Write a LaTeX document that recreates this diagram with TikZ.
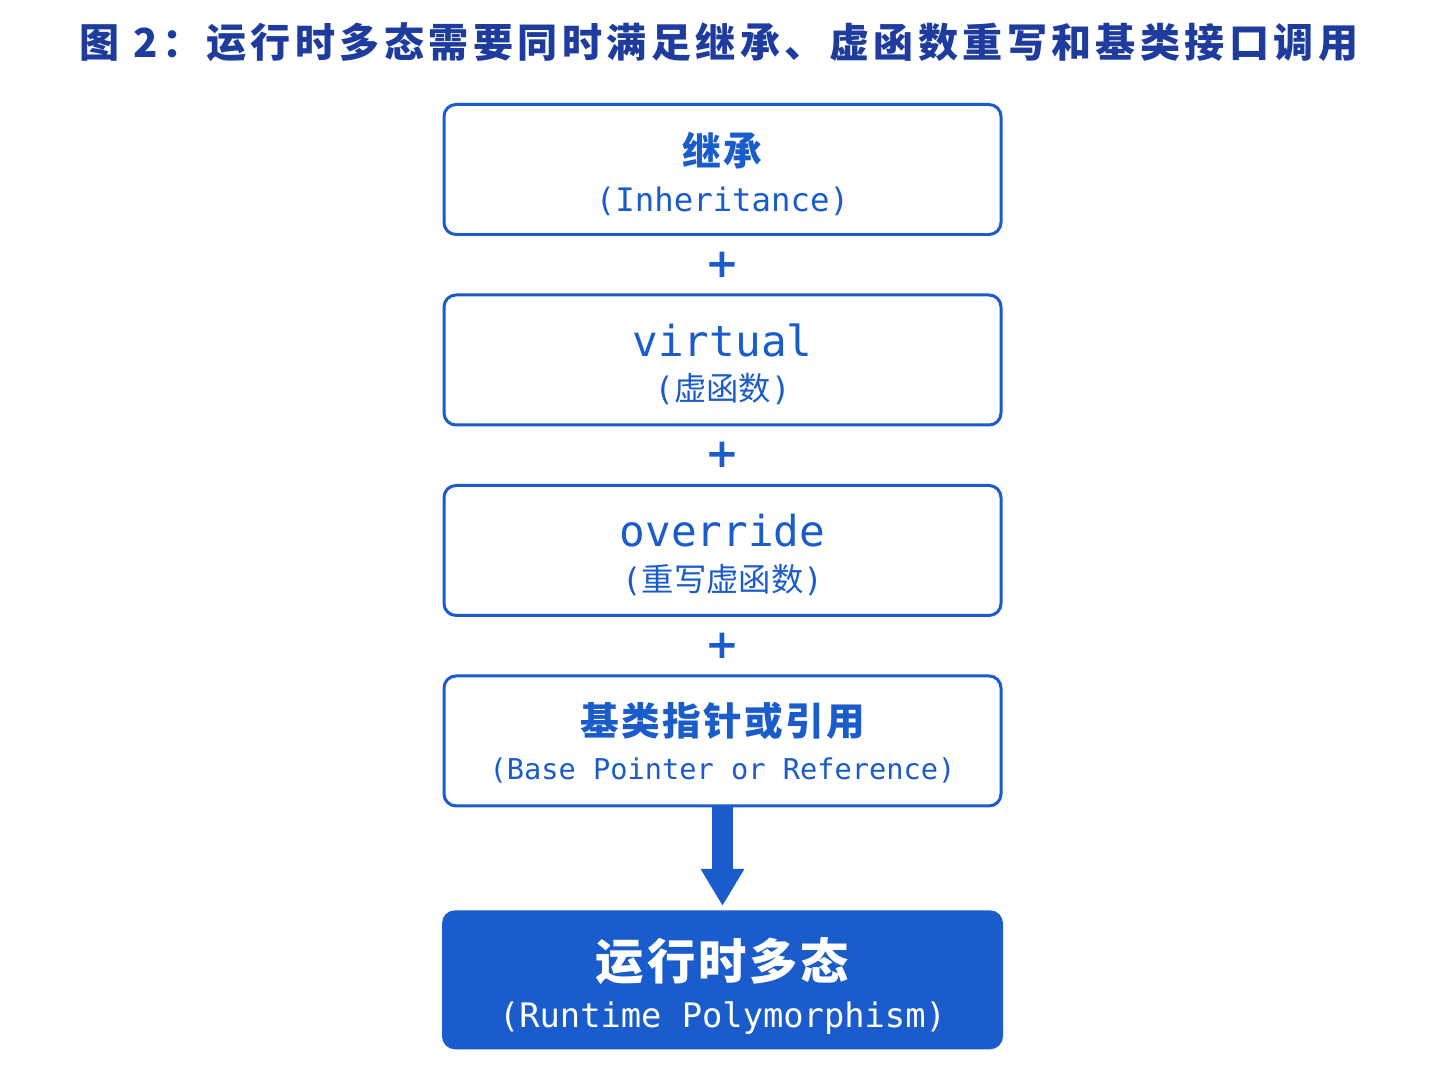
\documentclass[tikz,border=0pt]{standalone}
\usepackage{fontspec}
\usetikzlibrary{positioning,calc,arrows.meta}
\newfontfamily\zhtitle{Noto Sans CJK SC}[LetterSpace=11]
\newfontfamily\zhwide{Noto Sans CJK SC}[LetterSpace=6]
\newfontfamily\zhfont{Noto Sans CJK SC}
\newfontfamily\codefont{DejaVu Sans Mono}
\newfontfamily\plusfont{DejaVu Sans}
\definecolor{titleblue}{HTML}{1E3C9E}
\definecolor{boxblue}{HTML}{1A5CCB}
\begin{document}
\begin{tikzpicture}[
    stepbox/.style={draw=boxblue, line width=1.7pt, rounded corners=0.24cm, fill=white,
                    minimum width=11.14cm, minimum height=2.6cm},
    resultbox/.style={fill=boxblue, rounded corners=0.26cm, minimum width=11.22cm, minimum height=2.78cm},
    headtext/.style={text=boxblue, font=\zhwide\bfseries\fontsize{22}{26}\selectfont},
    subtext/.style={text=boxblue, font=\codefont\fontsize{18.4}{22}\selectfont},
    bigtext/.style={text=boxblue, font=\codefont\fontsize{24.3}{28}\selectfont},
    plussign/.style={text=boxblue, font=\plusfont\bfseries\fontsize{23}{27}\selectfont},
]
    \useasboundingbox (0,0) rectangle (28.96,-21.72);
    \node[text=titleblue, font=\zhtitle\bfseries\fontsize{22.8}{27}\selectfont] (title) at (14.38,-0.84)
        {图 2：运行时多态需要同时满足继承、虚函数重写和基类接口调用};

    % the four conditions
    \node[stepbox] (inherit) at (14.45,-3.39) {};
    \node[stepbox, below=1.15cm of inherit] (virt) {};
    \node[stepbox, below=1.15cm of virt] (overr) {};
    \node[stepbox, below=1.15cm of overr] (baseref) {};
    \node[resultbox, below=2.05cm of baseref] (poly) {};

    \node[headtext] (inheritzh) at ([yshift=0.39cm]inherit.center) {继承};
    \node[subtext] (inheriten) at ([yshift=-0.64cm]inherit.center) {(Inheritance)};
    \node[bigtext] (virten) at ([yshift=0.4cm]virt.center) {virtual};
    \node[subtext] (virtzh) at ([yshift=-0.58cm]virt.center) {(\zhfont 虚函数\codefont)};
    \node[bigtext] (overren) at ([yshift=0.39cm]overr.center) {override};
    \node[subtext] (overrzh) at ([yshift=-0.59cm]overr.center) {(\zhfont 重写虚函数\codefont)};
    \node[headtext] (baserefzh) at ([yshift=0.4cm]baseref.center) {基类指针或引用};
    \node[subtext, font=\codefont\fontsize{16.3}{20}\selectfont] (baserefen) at ([yshift=-0.6cm]baseref.center)
        {(Base Pointer or Reference)};

    % plus signs between the boxes
    \node[plussign] (plusa) at ($(inherit.south)!0.5!(virt.north)$) {+};
    \node[plussign] (plusb) at ($(virt.south)!0.5!(overr.north)$) {+};
    \node[plussign] (plusc) at ($(overr.south)!0.5!(baseref.north)$) {+};

    % result
    \draw[boxblue, line width=0.41cm, -{Triangle[width=0.82cm,length=0.74cm]}, shorten >=0.08cm]
        (baseref.south) -- (poly.north);
    \node[text=white, font=\zhwide\bfseries\fontsize{27.5}{32}\selectfont] (polyzh) at ([yshift=0.37cm]poly.center) {运行时多态};
    \node[text=white, font=\codefont\fontsize{19.2}{23}\selectfont] (polyen) at ([yshift=-0.77cm]poly.center)
        {(Runtime Polymorphism)};
\end{tikzpicture}
\end{document}
